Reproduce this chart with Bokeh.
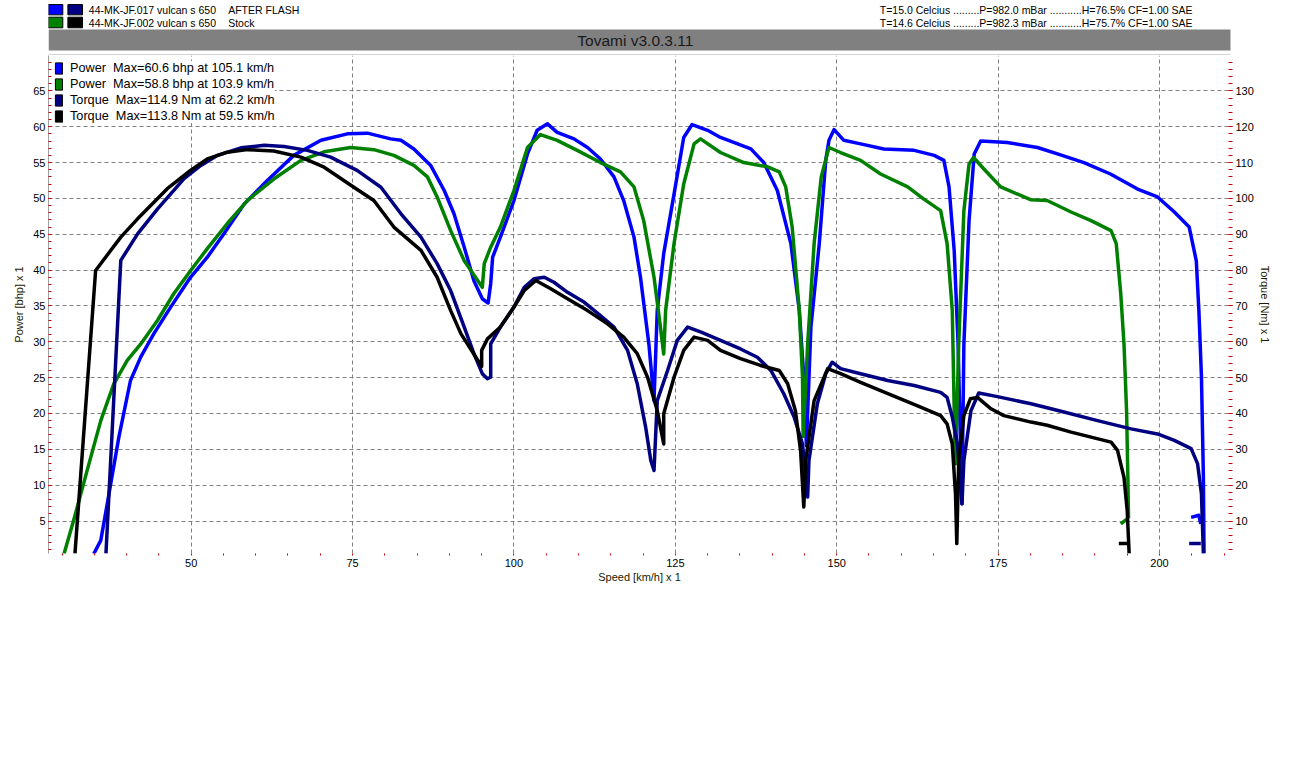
from bokeh.plotting import figure
from bokeh.models import Range1d, LinearAxis, SingleIntervalTicker, Legend, LegendItem
from bokeh.layouts import column
from bokeh.embed import file_html
from bokeh.resources import INLINE
from bokeh.core.properties import value

nan = float("nan")
FONT = "Liberation Sans"

# ---------------- header texts ----------------
run_names = ["44-MK-JF.017 vulcan s 650", "44-MK-JF.002 vulcan s 650"]
run_tags = ["AFTER FLASH", "Stock"]
run_conditions = [
    "T=15.0 Celcius .........P=982.0 mBar ...........H=76.5% CF=1.00 SAE",
    "T=14.6 Celcius .........P=982.3 mBar ...........H=75.7% CF=1.00 SAE",
]
title_text = "Tovami  v3.0.3.11"
legend_labels = [
    "Power  Max=60.6 bhp at 105.1 km/h",
    "Power  Max=58.8 bhp at 103.9 km/h",
    "Torque  Max=114.9 Nm at 62.2 km/h",
    "Torque  Max=113.8 Nm at 59.5 km/h",
]
colors = ["#0000ff", "#008000", "#000080", "#000000"]

# ---------------- data ----------------
# Power, AFTER FLASH (bhp)
speed_after_power = [34.9, 36.0, 37.0, 38.8, 40.6, 42.2, 44.2, 46.8, 49.9, 52.5, 55.1, 58.2, 61.8, 65.9, 70.1,
                     74.2, 77.3, 80.9, 82.5, 84.5, 87.1, 89.2, 90.7, 92.3, 93.8, 95.1, 96.0, 96.4, 96.7, 97.9,
                     100.0, 102.1, 103.6, 105.2, 106.7, 109.3, 111.4, 113.4, 115.5, 117.0, 118.6, 119.6, 120.9,
                     121.7, 122.2, 123.2, 124.8, 126.3, 127.6, 130.0, 132.0, 136.7, 138.7, 140.8, 142.9, 144.2,
                     144.9, 145.3, 146.0, 147.3, 148.3, 148.8, 149.6, 151.1, 153.7, 157.3, 162.0, 165.1, 166.6,
                     167.4, 168.2, 168.8, 169.4, 169.7, 170.5, 171.3, 172.3, 176.4, 181.1, 184.2, 188.3, 192.4,
                     196.6, 199.7, 202.3, 204.6, 205.7, 206.1, 206.5, 206.8, 206.9, nan, 204.9, 206.1, 206.4]
power_after = [0.4, 2.3, 7.4, 16.7, 24.6, 27.9, 31.1, 34.8, 39.0, 41.8, 45.1, 49.2, 52.5, 56.0, 58.1,
               59.0, 59.1, 58.3, 58.1, 56.9, 54.6, 51.1, 47.9, 43.2, 38.5, 36.0, 35.4, 38.1, 41.8, 44.6,
               49.7, 56.2, 59.5, 60.4, 59.2, 58.3, 57.1, 55.5, 53.0, 49.7, 44.6, 39.0, 29.7,
               21.8, 34.4, 42.3, 50.6, 58.5, 60.3, 59.5, 58.5, 56.9, 55.0, 51.1, 43.7, 34.4,
               25.1, 15.5, 32.0, 43.7, 55.3, 58.1, 59.6, 58.1, 57.6, 56.9, 56.7, 56.0, 55.3,
               51.6, 42.7, 29.7, 7.4, 29.7, 46.9, 56.2, 58.0, 57.8, 57.1, 56.2, 55.0, 53.4,
               51.3, 50.2, 48.1, 46.0, 41.3, 34.4, 25.1, 11.1, 0.5, nan, 5.5, 5.8, 4.6]

# Power, Stock (bhp)
speed_stock_power = [30.3, 31.8, 33.9, 36.0, 38.0, 40.1, 42.2, 44.8, 47.3, 49.9, 52.5, 55.6, 58.7, 62.8, 67.0,
                     70.6, 74.7, 78.3, 81.4, 84.5, 86.6, 88.1, 90.2, 92.3, 95.1, 95.4, 96.4, 97.9, 100.0, 102.1,
                     104.1, 106.7, 109.8, 113.4, 116.5, 118.6, 120.1, 121.7, 122.7, 123.2, 123.5, 124.8, 126.3,
                     127.9, 128.9, 132.0, 135.6, 139.3, 141.1, 142.1, 143.1, 144.2, 144.7, 144.8, 145.5, 146.5,
                     147.6, 148.8, 150.6, 153.7, 156.8, 161.0, 163.5, 166.1, 167.1, 167.9, 168.3, 168.4, 168.9,
                     169.7, 170.5, 171.2, 172.8, 175.4, 180.1, 182.6, 186.3, 189.4, 192.5, 193.3, 194.0, 194.5,
                     194.9, 195.1, 195.2, nan, 194.0, 195.0]
power_stock = [0.4, 5.1, 12.1, 19.0, 24.1, 27.4, 29.7, 33.0, 36.7, 39.9, 43.0, 46.5, 49.7, 52.7, 55.3,
               56.5, 57.1, 56.8, 56.0, 54.6, 53.0, 50.2, 45.5, 41.3, 37.6, 40.9, 43.2, 46.0, 51.1, 57.1,
               58.9, 58.1, 56.7, 55.0, 53.7, 51.6, 46.9, 39.0, 32.0, 28.3, 34.4, 43.7, 52.0,
               57.6, 58.3, 56.4, 55.0, 54.4, 53.7, 51.6, 46.0, 34.4, 25.1, 16.8, 29.7, 43.7,
               53.0, 57.1, 56.4, 55.3, 53.4, 51.6, 49.9, 48.3, 43.7, 34.4, 15.8, 13.0, 29.7,
               48.3, 54.8, 55.7, 54.1, 51.6, 49.8, 49.7, 48.1, 46.9, 45.5, 43.7, 36.7, 29.7,
               20.4, 11.1, 5.4, nan, 4.6, 5.3]

# Torque, AFTER FLASH (Nm)
speed_after_torque = [36.8, 39.1, 41.7, 44.8, 48.9, 51.5, 54.1, 57.7, 61.3, 64.4, 68.0, 71.6, 75.7, 79.4, 82.5,
                      85.6, 88.1, 90.2, 92.3, 93.8, 95.1, 95.9, 96.4, 96.4, 97.9, 100.0, 101.6, 103.1, 104.7,
                      106.2, 108.3, 110.9, 113.4, 115.5, 117.6, 119.1, 120.4, 121.2, 121.7, 122.2, 123.8, 125.3,
                      126.9, 129.0, 132.0, 135.1, 137.7, 139.8, 141.8, 143.4, 144.7, 145.5, 145.7, 147.0, 148.3,
                      149.3, 150.6, 153.7, 157.9, 162.0, 166.1, 167.1, 167.9, 168.7, 169.4, 169.7, 170.8, 172.0,
                      174.9, 180.1, 185.2, 190.4, 195.6, 199.7, 202.3, 204.9, 205.9, 206.5, 206.8, nan, 204.6, 206.4]
torque_after = [0.9, 82.7, 90.1, 97.1, 105.5, 109.2, 112.0, 114.1, 114.8, 114.5, 113.4, 111.5, 107.8, 103.1, 95.7,
                89.2, 81.8, 74.3, 64.1, 56.7, 51.1, 49.7, 50.1, 59.4, 64.1, 69.7, 75.2, 77.6, 78.0,
                76.6, 73.8, 71.0, 67.3, 64.1, 57.6, 48.3, 36.2, 26.9, 24.1, 43.6, 52.0, 60.4,
                64.1, 62.7, 60.4, 58.0, 55.7, 52.0, 45.5, 39.0, 31.5, 16.7, 26.9, 42.7, 51.1,
                54.3, 52.5, 51.1, 49.2, 47.8, 45.9, 44.5, 39.0, 31.5, 14.8, 26.9, 40.8, 45.7,
                44.7, 42.7, 40.4, 38.0, 35.7, 34.3, 32.5, 30.2, 26.0, 17.6, 0.9, nan, 3.7, 3.7]

# Torque, Stock (Nm)
speed_stock_torque = [32.0, 35.2, 39.1, 41.7, 46.3, 49.9, 52.5, 55.6, 58.7, 62.8, 67.0, 70.6, 75.2, 78.3, 81.4,
                      85.6, 88.1, 90.2, 91.8, 93.3, 95.0, 95.0, 95.9, 97.9, 100.0, 101.6, 103.4, 105.7, 108.3,
                      111.4, 114.5, 117.0, 119.1, 120.7, 122.2, 123.2, 123.2, 124.8, 126.3, 127.9, 130.0, 132.0,
                      135.1, 138.2, 141.1, 142.4, 143.6, 144.4, 144.9, 145.2, 146.5, 148.6, 150.6, 153.7, 156.8,
                      159.9, 163.0, 166.1, 167.1, 167.9, 168.4, 168.6, 168.9, 169.7, 170.7, 171.8, 173.9, 175.9,
                      180.1, 182.6, 186.3, 189.4, 192.5, 193.5, 194.5, 195.0, 195.3, nan, 193.7, 195.3]
torque_stock = [0.9, 79.9, 89.2, 94.3, 102.7, 107.8, 111.0, 112.9, 113.6, 113.2, 111.5, 108.7, 103.1, 99.4, 92.0,
                85.5, 78.0, 68.7, 62.2, 58.0, 53.1, 57.6, 60.8, 64.1, 69.7, 74.3, 77.1, 74.8, 72.0,
                68.7, 65.0, 61.3, 56.7, 50.1, 40.8, 31.5, 39.9, 50.1, 57.6, 61.3, 60.4, 57.6,
                55.3, 53.4, 52.0, 48.3, 40.8, 29.7, 13.9, 26.9, 43.6, 52.5, 51.1, 48.7, 46.4,
                44.1, 41.8, 39.4, 37.1, 31.5, 17.6, 3.7, 26.9, 39.4, 44.1, 44.5, 41.3, 39.4,
                37.6, 36.7, 34.8, 33.4, 32.0, 29.7, 22.2, 12.9, 0.9, nan, 3.7, 3.7]

# axis ranges (km/h, bhp, Nm)
speed_range = (27.9, 211.0)
power_range = (0.47, 69.93)
torque_range = (0.94, 139.86)

RED = "#cc0000"
GRID = "#808080"

BL, BR = 48, 62
FW = 1182

# ---------------- header figure (coordinates = page pixels) ----------------
HH = 55
h = figure(frame_width=FW, frame_height=HH, min_border_left=BL, min_border_right=BR,
           min_border_top=0, min_border_bottom=0,
           x_range=Range1d(BL, BL + FW), y_range=Range1d(HH, 0),
           x_axis_type=None, y_axis_type=None, outline_line_color=None,
           output_backend="svg", toolbar_location=None)
h.xgrid.visible = False
h.ygrid.visible = False

row_y = [9.2, 22.0]
row_h = [10.3, 10.6]
text_y = [9.0, 22.4]
HFS = "10.5px"
for i in range(2):
    h.rect(x=[55.0], y=[row_y[i]], width=14.6, height=row_h[i], fill_color=colors[i],
           line_color="#000000", line_width=1)
    h.rect(x=[74.7], y=[row_y[i]], width=14.6, height=row_h[i], fill_color=colors[i + 2],
           line_color="#000000", line_width=1)
    h.text(x=[88.3], y=[text_y[i]], text=[run_names[i]], text_font=value(FONT), text_font_size=HFS,
           text_baseline="middle", text_align="left", text_color="#000000")
    h.text(x=[227.7], y=[text_y[i]], text=[run_tags[i]], text_font=value(FONT), text_font_size=HFS,
           text_baseline="middle", text_align="left", text_color="#000000")
    h.text(x=[879.3], y=[text_y[i]], text=[run_conditions[i]], text_font=value(FONT), text_font_size=HFS,
           text_baseline="middle", text_align="left", text_color="#000000")

h.quad(left=[48], right=[1231], top=[29], bottom=[50], fill_color="#808080", line_color=None)
h.text(x=[637], y=[39.5], text=[title_text], text_font=value(FONT), text_font_size="15.5px",
       text_baseline="middle", text_align="center", text_color="#1a1a1a")
h.segment(x0=[48], y0=[54.5], x1=[1233], y1=[54.5], line_color="#a8a8a8", line_width=1)

# ---------------- main figure ----------------
p = figure(frame_width=FW, frame_height=498,
           min_border_left=BL, min_border_right=BR, min_border_top=0, min_border_bottom=40,
           x_range=Range1d(*speed_range), y_range=Range1d(*power_range),
           output_backend="svg", toolbar_location=None, outline_line_color=None)
p.extra_y_ranges = {"torque": Range1d(*torque_range)}

xt = SingleIntervalTicker(interval=25, num_minor_ticks=5)
yt = SingleIntervalTicker(interval=5, num_minor_ticks=5)
rt = SingleIntervalTicker(interval=10, num_minor_ticks=5)

xa = p.xaxis[0]
xa.ticker = xt
xa.axis_label = "Speed [km/h] x 1"
xa.axis_line_color = None
xa.major_tick_line_color = None
xa.major_tick_out = 0
xa.major_tick_in = 0
xa.minor_tick_line_color = RED
xa.minor_tick_out = 2
xa.minor_tick_in = 0
xa.major_label_standoff = 3
xa.axis_label_standoff = 1

ya = p.yaxis[0]
ya.ticker = yt
ya.axis_label = "Power [bhp] x 1"
ya.axis_line_color = "#a0a0a0"
ya.major_tick_line_color = RED
ya.minor_tick_line_color = RED
ya.major_tick_in = 3
ya.major_tick_out = 0
ya.minor_tick_in = 3
ya.minor_tick_out = 0
ya.major_label_standoff = 3
ya.axis_label_standoff = 5

ra = LinearAxis(y_range_name="torque", ticker=rt, axis_label="Torque [Nm] x 1")
ra.axis_line_color = None
ra.major_tick_line_color = RED
ra.minor_tick_line_color = RED
ra.major_tick_in = 2
ra.major_tick_out = 2
ra.minor_tick_in = 2
ra.minor_tick_out = 2
ra.major_label_standoff = 3
ra.axis_label_standoff = 2
p.add_layout(ra, "right")

for ax in (xa, ya, ra):
    ax.major_label_text_font = FONT
    ax.major_label_text_font_size = "11px"
    ax.major_label_text_color = "#000000"
    ax.axis_label_text_font = FONT
    ax.axis_label_text_font_size = "11px"
    ax.axis_label_text_font_style = "normal"
    ax.axis_label_text_color = "#1a1a00"

p.xgrid[0].ticker = xt
p.ygrid[0].ticker = yt
for g in (p.xgrid[0], p.ygrid[0]):
    g.grid_line_color = GRID
    g.grid_line_dash = "4 3"
    g.grid_line_width = 1

LW = 3.5
p.line(speed_after_power, power_after, line_color=colors[0], line_width=LW, line_join="round")
p.line(speed_stock_power, power_stock, line_color=colors[1], line_width=LW, line_join="round")
p.line(speed_after_torque, torque_after, line_color=colors[2], line_width=LW, line_join="round",
       y_range_name="torque")
p.line(speed_stock_torque, torque_stock, line_color=colors[3], line_width=LW, line_join="round",
       y_range_name="torque")

# zero-size swatch renderers used only for the legend
proxies = [p.rect(x=[speed_after_power[0]], y=[power_after[0]], width=0, height=0,
                  fill_color=c, line_color="#000000", line_width=1) for c in colors]
legend = Legend(items=[LegendItem(label=lab, renderers=[r]) for lab, r in zip(legend_labels, proxies)],
                location=(6, 430), margin=0, padding=3, spacing=2,
                glyph_width=9, glyph_height=14, label_height=14, label_standoff=7,
                label_text_font=FONT, label_text_font_size="12.7px", label_text_color="#000000",
                label_text_baseline="middle",
                border_line_color=None, background_fill_color="#ffffff", background_fill_alpha=1.0)
p.add_layout(legend)

layout = column(h, p)
open("out.html", "w").write(file_html(layout, INLINE))
